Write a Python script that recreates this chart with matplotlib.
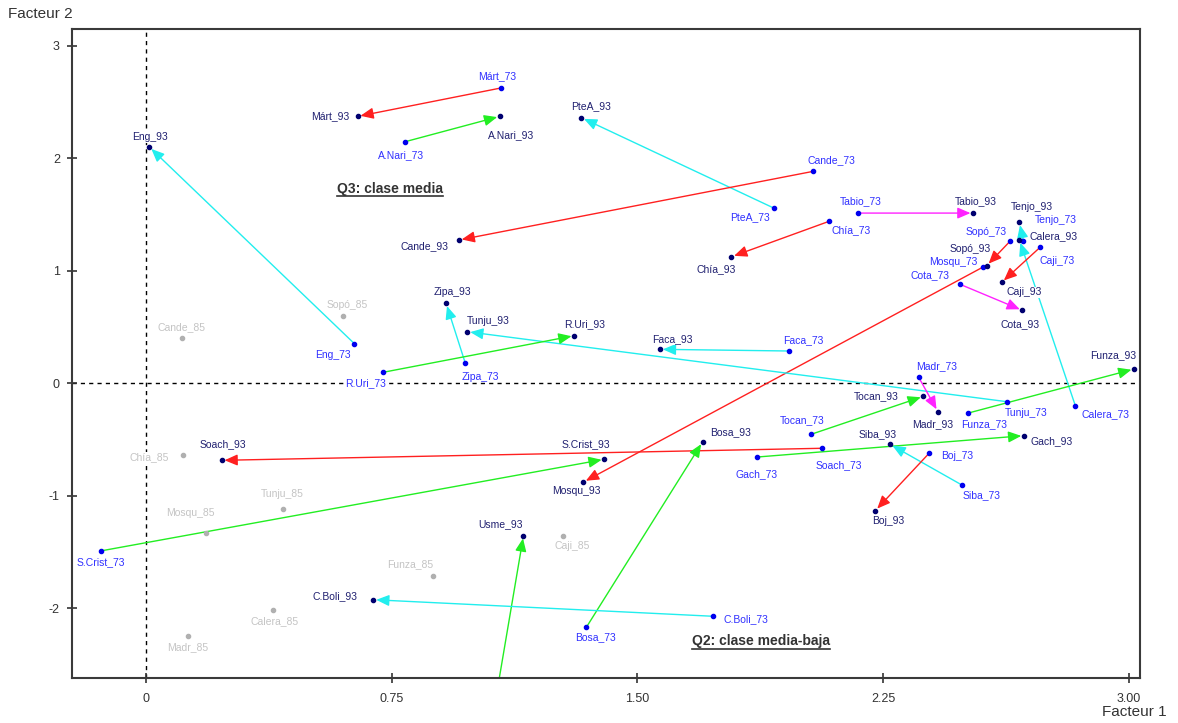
import matplotlib
matplotlib.use("Agg")
import matplotlib.pyplot as plt
from matplotlib.patches import FancyArrowPatch
from matplotlib.lines import Line2D
from matplotlib.transforms import IdentityTransform

plt.rcParams['font.family'] = ['Liberation Sans', 'DejaVu Sans']
plt.rcParams['axes.unicode_minus'] = False

# ---------------- data ----------------
names = ["Márt", "A.Nari", "PteA", "Eng", "Cande", "Tabio", "Chía", "Tenjo",
         "Calera", "Sopó", "Mosqu", "Caji", "Cota", "Zipa", "Tunju", "R.Uri",
         "Faca", "Madr", "Tocan", "Funza", "Gach", "Siba", "Soach", "Boj",
         "S.Crist", "Bosa", "Usme", "C.Boli"]
x73 = [1.083, 0.791, 1.918, 0.636, 2.037, 2.172, 2.085, 2.678,
       2.837, 2.637, 2.555, 2.729, 2.485, 0.974, 2.627, 0.724,
       1.963, 2.358, 2.030, 2.510, 1.864, 2.492, 2.063, 2.390,
       -0.139, 1.344, 1.056, 1.730]
y73 = [2.623, 2.146, 1.554, 0.352, 1.883, 1.512, 1.439, 1.261,
       -0.202, 1.261, 1.033, 1.208, 0.879, 0.183, -0.163, 0.098,
       0.287, 0.056, -0.453, -0.264, -0.655, -0.906, -0.577, -0.622,
       -1.489, -2.167, -3.000, -2.069]
x93 = [0.646, 1.080, 1.329, 0.010, 0.955, 2.525, 1.787, 2.666,
       2.666, 2.566, 1.335, 2.612, 2.675, 0.916, 0.981, 1.307,
       1.569, 2.417, 2.373, 3.016, 2.680, 2.271, 0.231, 2.226,
       1.399, 1.699, 1.152, 0.694]
y93 = [2.371, 2.371, 2.359, 2.099, 1.273, 1.512, 1.124, 1.430,
       1.272, 1.045, -0.877, 0.897, 0.648, 0.710, 0.458, 0.423,
       0.302, -0.252, -0.116, 0.127, -0.465, -0.542, -0.684, -1.131,
       -0.675, -0.519, -1.353, -1.922]
trajectory = ["r", "g", "c", "c", "r", "m", "r", "c",
              "c", "r", "r", "r", "m", "c", "c", "g",
              "c", "m", "g", "g", "g", "c", "r", "r",
              "g", "g", "g", "c"]

names85 = ["Sopó", "Cande", "Chía", "Tunju", "Mosqu", "Calera", "Madr", "Funza", "Caji"]
x85 = [0.602, 0.109, 0.112, 0.417, 0.182, 0.386, 0.127, 0.875, 1.274]
y85 = [0.595, 0.402, -0.639, -1.119, -1.329, -2.016, -2.247, -1.708, -1.353]

x_ticks = [0, 0.75, 1.50, 2.25, 3.00]
x_ticklabels = ["0", "0.75", "1.50", "2.25", "3.00"]
y_ticks = [-2, -1, 0, 1, 2, 3]

# ---------------- style / layout ----------------
traj_colors = {"r": "#ff2020", "g": "#22ee22", "c": "#22eeee", "m": "#ff22ff"}
c73_dot, c93_dot, c85_dot = "#0000ee", "#000070", "#b0b0b0"
c73_txt, c93_txt, c85_txt = "#3030ff", "#202070", "#c4c4c4"

# label offsets in pixels (dx, dy) of label centre from its point
off73 = {"Márt": (-4, 12), "A.Nari": (-4, -13), "PteA": (-24, -9), "Eng": (-21, -11),
         "Cande": (18, 11), "Tabio": (3, 12), "Chía": (22, -9), "Tenjo": (32, 21),
         "Calera": (30, -8), "Sopó": (-24, 9), "Mosqu": (-30, 5), "Caji": (17, -14),
         "Cota": (-30, 9), "Zipa": (15, -14), "Tunju": (20, -11), "R.Uri": (-18, -11),
         "Faca": (14, 11), "Madr": (18, 11), "Tocan": (-9, 14), "Funza": (16, -11),
         "Gach": (0, -17), "Siba": (19, -10), "Soach": (17, -17), "Boj": (28, -3),
         "S.Crist": (0, -11), "Bosa": (9, -10), "Usme": (0, -12), "C.Boli": (33, -3)}
off93 = {"Márt": (-27, 0), "A.Nari": (11, -19), "PteA": (10, 12), "Eng": (1, 10),
         "Cande": (-34, -6), "Tabio": (3, 12), "Chía": (-15, -12), "Tenjo": (12, 15),
         "Calera": (34, 4), "Sopó": (-16, 17), "Mosqu": (-7, -9), "Caji": (22, -10),
         "Cota": (-2, -14), "Zipa": (6, 11), "Tunju": (21, 11), "R.Uri": (10, 12),
         "Faca": (12, 10), "Madr": (-5, -12), "Tocan": (-47, 0), "Funza": (-21, 14),
         "Gach": (28, -5), "Siba": (-12, 10), "Soach": (1, 16), "Boj": (13, -10),
         "S.Crist": (-18, 15), "Bosa": (28, 10), "Usme": (-23, 12), "C.Boli": (-38, 4)}
off85 = {"Sopó": (4, 11), "Cande": (0, 11), "Chía": (-34, -2), "Tunju": (0, 15),
         "Mosqu": (-15, 20), "Calera": (2, -11), "Madr": (0, -11), "Funza": (-23, 11),
         "Caji": (9, -10)}

W, H = 1178, 723
fig = plt.figure(figsize=(W / 100, H / 100), dpi=100)
ax = fig.add_axes([71.7 / W, 1 - 678.3 / H, (1140 - 71.7) / W, (678.3 - 29) / H])
ax.set_xlim(-0.227, 3.034)
ax.set_ylim(-2.62, 3.147)

# reference lines
ax.axhline(0, color="black", lw=1.0, ls=(0, (3, 3)), zorder=1)
ax.axvline(0, color="black", lw=1.0, ls=(0, (3, 3)), zorder=1)

# arrows
for n, a, b, c, d, t in zip(names, x73, y73, x93, y93, trajectory):
    arr = FancyArrowPatch((a, b), (c, d),
                          arrowstyle="-|>,head_length=0.65,head_width=0.28",
                          mutation_scale=12, color=traj_colors[t], lw=1.0,
                          shrinkA=0, shrinkB=2, zorder=2)
    ax.add_patch(arr)

lbl_kw = dict(textcoords="offset pixels", ha="center", va="center", fontsize=7.5,
              bbox=dict(facecolor="white", edgecolor="none", pad=0.4), zorder=3,
              annotation_clip=True)

for n, a, b in zip(names85, x85, y85):
    ax.annotate(f"{n}_85", (a, b), xytext=off85[n], color=c85_txt, **lbl_kw)
for n, a, b in zip(names, x73, y73):
    ax.annotate(f"{n}_73", (a, b), xytext=off73[n], color=c73_txt, **lbl_kw)
for n, a, b in zip(names, x93, y93):
    ax.annotate(f"{n}_93", (a, b), xytext=off93[n], color=c93_txt, **lbl_kw)

ax.plot(x85, y85, "o", color=c85_dot, ms=3.0, zorder=4, clip_on=True)
ax.plot(x73, y73, "o", color=c73_dot, ms=3.0, zorder=4, clip_on=True)
ax.plot(x93, y93, "o", color=c93_dot, ms=3.0, zorder=4, clip_on=True)

# quadrant notes
q3 = ax.text(0.746, 1.726, "Q3: clase media", ha="center", va="center",
             fontsize=10, fontweight="bold", color="#333333", zorder=5)
q2 = ax.text(1.877, -2.289, "Q2: clase media-baja", ha="center", va="center",
             fontsize=10, fontweight="bold", color="#333333", zorder=5)

# axes styling
for s in ax.spines.values():
    s.set_color("#3a3a3a")
    s.set_linewidth(1.5)
ax.set_xticks(x_ticks)
ax.set_xticklabels(x_ticklabels)
ax.set_yticks(y_ticks)
ax.tick_params(axis="both", direction="inout", length=7, width=1.2, color="#333333",
               labelsize=9, labelcolor="#333333")
ax.tick_params(axis="x", pad=7)
ax.tick_params(axis="y", pad=5)

fig.text(40 / W, 1 - 14 / H, "Facteur 2", ha="center", va="center", fontsize=11, color="#333333")
fig.text(1134 / W, 1 - 712 / H, "Facteur 1", ha="center", va="center", fontsize=11, color="#333333")

# underline the quadrant notes
fig.canvas.draw()
r = fig.canvas.get_renderer()
for t in (q3, q2):
    bb = t.get_window_extent(r)
    fig.add_artist(Line2D([bb.x0, bb.x1], [bb.y0 - 0.5, bb.y0 - 0.5],
                          transform=IdentityTransform(), color="#333333", lw=1.2))

fig.savefig("out.png", dpi=100)
